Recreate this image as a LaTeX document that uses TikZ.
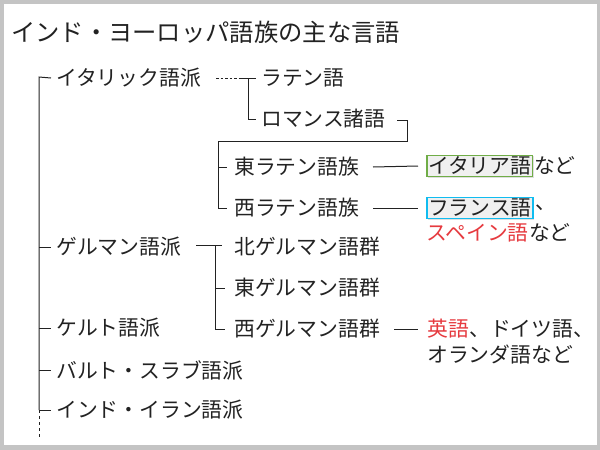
\documentclass[tikz,border=0pt]{standalone}
\usepackage{fontspec}
\setmainfont{Noto Sans CJK JP}
\usetikzlibrary{shadows}
\definecolor{txt}{HTML}{222222}
\definecolor{frame}{HTML}{C4C4C4}
\definecolor{grn}{HTML}{70AD47}
\definecolor{cyn}{HTML}{10BCF0}
\definecolor{rd}{HTML}{E63A3F}
\definecolor{boxfill}{HTML}{F0F0F0}
\tikzset{
  lbl/.style={anchor=west, inner sep=0pt, text=txt, font=\fontsize{20.8}{23}\selectfont},
  ttl/.style={anchor=west, inner sep=0pt, text=txt, font=\fontsize{24.3}{27}\selectfont},
  ln/.style={draw=txt, line width=1pt},
  hl/.style={draw=#1, line width=1.6pt, fill=boxfill, inner sep=1.3pt, anchor=west, text=txt,
     font=\fontsize{20.8}{23}\selectfont, drop shadow={opacity=0.25, shadow xshift=1pt, shadow yshift=-1pt}},
}
\begin{document}
\begin{tikzpicture}[x=1pt,y=-1pt]
\fill[frame] (0,0) rectangle (600,450);
\fill[white] (4,4) rectangle (597,445);
\useasboundingbox (0,0) rectangle (600,450);

\node[ttl] (title) at (11,32) {インド・ヨーロッパ語族の主な言語};

% first level
\node[lbl] (ita) at (56,78) {イタリック語派};
\node[lbl] (ger) at (56,247) {ゲルマン語派};
\node[lbl] (cel) at (56,328) {ケルト語派};
\node[lbl] (bs) at (56,370) {バルト・スラブ語派};
\node[lbl] (ii) at (56,410) {インド・イラン語派};

% italic branch
\node[lbl] (lat) at (261,78) {ラテン語};
\node[lbl] (rom) at (261,119) {ロマンス諸語};
\node[lbl] (elat) at (234,167) {東ラテン語族};
\node[lbl] (wlat) at (234,208) {西ラテン語族};

\node[hl=grn] (it) at (426,166) {イタリア語};
\node[lbl] (itn) at ([xshift=0.5pt]it.east) {など};
\node[hl=cyn] (fr) at (426,208) {フランス語};
\node[lbl] (frc) at ([xshift=1.5pt]fr.east) {、};
\node[lbl, text=rd] (sp) at (426,233) {スペイン語};
\node[lbl] (spn) at (sp.east) {など};

% germanic branch
\node[lbl] (ng) at (234,247) {北ゲルマン語群};
\node[lbl] (eg) at (234,288) {東ゲルマン語群};
\node[lbl] (wg) at (234,329) {西ゲルマン語群};
\node[lbl, text=rd] (en) at (427,329) {英語};
\node[lbl] (de) at (en.east) {、ドイツ語、};
\node[lbl] (nl) at (427,355) {オランダ語など};

% main trunk
\coordinate (top) at (39,77);
\coordinate (bot) at (39,410);
\coordinate (end) at (39,438);
\draw[ln] (ita.west) ++(-5,0) coordinate (t0) -- (top) -- (bot);
\draw[ln, dash pattern=on 3pt off 3pt] (bot) -- (end);
\foreach \n in {ger,cel,bs,ii}{
  \draw[ln] (39,0 |- \n.west) -- ([xshift=-5pt]\n.west);
}

% italic to latin / romance
\coordinate (ib) at (248,78);
\draw[ln, dash pattern=on 2.5pt off 2pt] (216,78) -- (240,78);
\draw[ln] (240,78) -- ([xshift=-5pt]lat.west);
\draw[ln] (ib) -- (248,0 |- rom.west) -- ([xshift=-5pt]rom.west);

% romance to east/west latin
\draw[ln] (397,120) -- (407,120) coordinate (rc) -- (rc |- 0,141) -- (218,141) -- (218,0 |- wlat.west) -- ([xshift=-7pt]wlat.west);
\draw[ln] (218,0 |- elat.west) -- ([xshift=-7pt]elat.west);
\draw[ln] (373,167) -- ([xshift=-8pt]it.west);
\draw[ln] (373,208) -- ([xshift=-8pt]fr.west);

% germanic
\draw[ln] (196,245) -- (222,245);
\draw[ln] (215,245) -- (215,0 |- wg.west) -- ([xshift=-9pt]wg.west);
\draw[ln] (215,0 |- eg.west) -- ([xshift=-9pt]eg.west);
\draw[ln] (394,329) -- ([xshift=-9pt]en.west);
\end{tikzpicture}
\end{document}
